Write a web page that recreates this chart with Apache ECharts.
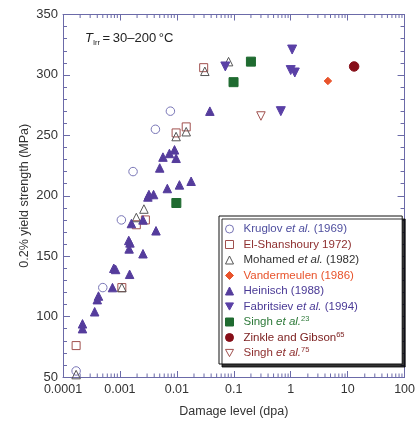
<!DOCTYPE html>
<html>
<head>
<meta charset="utf-8">
<script src="https://cdn.jsdelivr.net/npm/echarts@6/dist/echarts.min.js"></script>
<style>
  html, body { margin: 0; padding: 0; background: #fff; }
  #chart { width: 418px; height: 423px; }
</style>
</head>
<body>
<div id="chart"></div>
<script>
// Yield strength of irradiated copper vs. damage level: [dpa, MPa]
const kruglov = [[0.00017, 55], [0.0005, 124], [0.00106, 180], [0.0017, 220], [0.0042, 255], [0.0077, 270]];
const elShanshoury = [[0.00017, 76], [0.00108, 124], [0.00194, 176], [0.0028, 180], [0.0097, 252], [0.0146, 257], [0.0296, 306]];
const mohamed = [[0.00017, 52], [0.00108, 124], [0.00194, 182], [0.00264, 189], [0.0097, 249], [0.0146, 253], [0.031, 303], [0.081, 311]];
const vandermeulen = [[4.5, 295]];
const heinisch = [
  [0.00022, 94], [0.00022, 90], [0.00036, 104], [0.00042, 117], [0.0004, 114],
  [0.00074, 124], [0.00078, 140], [0.00084, 139], [0.00148, 135],
  [0.00143, 163], [0.0015, 161], [0.00145, 156], [0.00254, 152],
  [0.00159, 177], [0.00254, 180], [0.0043, 171],
  [0.00323, 201], [0.0031, 199], [0.0039, 201], [0.0068, 206], [0.0111, 209], [0.0178, 212],
  [0.005, 223], [0.0057, 232], [0.0074, 235], [0.0091, 238], [0.0097, 231], [0.038, 270]
];
const fabritsiev = [[0.071, 307], [1.06, 321], [1.0, 304], [1.18, 302], [0.67, 270]];
const singh23 = [[0.099, 294], [0.2, 311], [0.0098, 194]];
const zinkle = [[13, 307]];
const singh75 = [[0.3, 266]];

// Axis ranges and minor (2..9 per decade) tick values for the log axis
const xMin = 0.0001, xMax = 100;
const yMin = 50, yMax = 350, yStep = 50;
const minorX = [];
for (let e = -4; e < 2; e++) {
  for (let m = 2; m <= 9; m++) minorX.push(m * Math.pow(10, e));
}

const axisColor = '#6b6aa8';
const fontFamily = 'Liberation Sans, Arial, sans-serif';
const downTriangle = 'path://M0,0 L10,0 L5,9 Z';
const chart = echarts.init(document.getElementById('chart'));

// Series styles: symbol, size, fill, stroke, legend text colour
const styles = {
  'Kruglov':       { symbol: 'circle',     size: 8.5, fill: '#fff',               stroke: '#7875b6', text: '#4f4f9f', label: '{n|Kruglov }{i|et al.}{n| (1969)}' },
  'El-Shanshoury': { symbol: 'rect',       size: 8,   fill: 'rgba(255,255,255,0)', stroke: '#a0504e', text: '#8e2f2f', label: '{n|El-Shanshoury 1972)}' },
  'Mohamed':       { symbol: 'triangle',   size: 8.5, fill: 'rgba(255,255,255,0)', stroke: '#555',    text: '#333333', label: '{n|Mohamed }{i|et al.}{n| (1982)}' },
  'Vandermeulen':  { symbol: 'diamond',    size: 7.5, fill: '#e8532b',            stroke: '#e8532b', text: '#e8532b', label: '{n|Vandermeulen (1986)}' },
  'Heinisch':      { symbol: 'triangle',   size: 8.5, fill: '#553c9c',            stroke: '#553c9c', text: '#4a3a96', label: '{n|Heinisch (1988)}' },
  'Fabritsiev':    { symbol: downTriangle, size: 9,   fill: '#5a40a6',            stroke: '#5a40a6', text: '#4a3a96', label: '{n|Fabritsiev }{i|et al.}{n| (1994)}' },
  'Singh23':       { symbol: 'rect',       size: 9,   fill: '#1f6b30',            stroke: '#1f6b30', text: '#2e7a3a', label: '{n|Singh }{i|et al.}{sup|23}' },
  'Zinkle':        { symbol: 'circle',     size: 9.5, fill: '#860e18',            stroke: '#860e18', text: '#7a1c1c', label: '{n|Zinkle and Gibson}{sup|65}' },
  'Singh75':       { symbol: downTriangle, size: 8.5, fill: '#fff',               stroke: '#a0504e', text: '#8e2f2f', label: '{n|Singh }{i|et al.}{sup|75}' }
};
const seriesData = {
  'Kruglov': kruglov, 'El-Shanshoury': elShanshoury, 'Mohamed': mohamed,
  'Vandermeulen': vandermeulen, 'Heinisch': heinisch, 'Fabritsiev': fabritsiev,
  'Singh23': singh23, 'Zinkle': zinkle, 'Singh75': singh75
};
const names = Object.keys(styles);

const scatterSeries = names.map(name => {
  const s = styles[name];
  return {
    name: name, type: 'scatter', data: seriesData[name],
    symbol: s.symbol, symbolSize: s.size,
    itemStyle: { color: s.fill, borderColor: s.stroke, borderWidth: 1, opacity: 1 },
    z: 3
  };
});

chart.setOption({
  animation: false,
  grid: { left: 63, right: 12, top: 14.5, bottom: 42, containLabel: false },
  xAxis: [
    {
      type: 'log', logBase: 10, min: xMin, max: xMax, splitNumber: 6,
      name: 'Damage level (dpa)', nameLocation: 'middle', nameGap: 28,
      nameTextStyle: { color: '#333', fontSize: 12.5, fontFamily: fontFamily },
      axisLine: { lineStyle: { color: axisColor, width: 1 } },
      axisTick: { inside: true, length: 6, lineStyle: { color: axisColor } },
      axisLabel: {
        color: '#333', fontSize: 12.5, fontFamily: fontFamily, margin: 6,
        formatter: v => String(Number(v.toPrecision(1)))
      },
      splitLine: { show: false }
    },
    {
      type: 'log', logBase: 10, min: xMin, max: xMax, splitNumber: 6, position: 'top',
      axisLine: { lineStyle: { color: axisColor, width: 1 } },
      axisTick: { inside: true, length: 6, lineStyle: { color: axisColor } },
      axisLabel: { show: false },
      splitLine: { show: false }
    }
  ],
  yAxis: [
    {
      type: 'value', min: yMin, max: yMax, interval: yStep,
      name: '0.2% yield strength (MPa)', nameLocation: 'middle', nameGap: 32,
      nameMoveOverlap: false,
      nameTextStyle: { color: '#333', fontSize: 12.5, fontFamily: fontFamily },
      axisLine: { show: true, lineStyle: { color: axisColor, width: 1 } },
      axisTick: { inside: true, length: 7, lineStyle: { color: axisColor } },
      minorTick: { show: true, splitNumber: 5, length: 4, lineStyle: { color: axisColor } },
      axisLabel: { color: '#333', fontSize: 13, fontFamily: fontFamily, margin: 5 },
      splitLine: { show: false }
    },
    {
      type: 'value', min: yMin, max: yMax, interval: yStep, position: 'right',
      axisLine: { show: true, lineStyle: { color: axisColor, width: 1 } },
      axisTick: { inside: true, length: 7, lineStyle: { color: axisColor } },
      minorTick: { show: true, splitNumber: 5, length: 4, lineStyle: { color: axisColor } },
      axisLabel: { show: false },
      splitLine: { show: false }
    }
  ],
  legend: {
    orient: 'vertical', left: 219, top: 216,
    padding: [6, 43, 4, 6],
    itemWidth: 8, itemHeight: 8, itemGap: 1.5,
    backgroundColor: '#fff', borderColor: '#111', borderWidth: 1,
    shadowColor: 'rgba(0,0,0,0.8)', shadowBlur: 0, shadowOffsetX: 3, shadowOffsetY: 3,
    selectedMode: false,
    data: names.map(name => ({
      name: name,
      icon: styles[name].symbol,
      itemStyle: { color: styles[name].fill, borderColor: styles[name].stroke, borderWidth: 1 },
      textStyle: { color: styles[name].text }
    })),
    formatter: name => styles[name].label,
    textStyle: {
      fontSize: 11.5, fontFamily: fontFamily, padding: [0, 0, 0, 5], lineHeight: 14,
      rich: {
        n: { fontSize: 11.5, fontFamily: fontFamily, lineHeight: 14 },
        i: { fontSize: 11.5, fontFamily: fontFamily, fontStyle: 'italic', lineHeight: 14 },
        sup: { fontSize: 7.5, fontFamily: fontFamily, verticalAlign: 'top', lineHeight: 14, padding: [0, 0, 5, 0] }
      }
    }
  },
  graphic: [{
    type: 'text', left: 85, top: 32,
    style: {
      text: '{t|T}{s|Irr}{n|\u2009=\u200930–200\u2009°C}',
      rich: {
        t: { fontSize: 13, fontStyle: 'italic', fontFamily: fontFamily, fill: '#222' },
        s: { fontSize: 7.5, fontFamily: fontFamily, fill: '#222', padding: [8, 0, 0, 0] },
        n: { fontSize: 13, fontFamily: fontFamily, fill: '#222' }
      }
    }
  }],
  series: [
    // minor ticks of the log axes, top and bottom
    {
      type: 'custom', silent: true, z: 1, clip: false,
      data: minorX.map(v => [v, yMin]),
      renderItem: function (params, api) {
        const v = api.value(0);
        const b = api.coord([v, yMin]);
        const t = api.coord([v, yMax]);
        const style = { stroke: axisColor, lineWidth: 1 };
        return {
          type: 'group',
          children: [
            { type: 'line', shape: { x1: b[0], y1: b[1], x2: b[0], y2: b[1] - 3.5 }, style: style },
            { type: 'line', shape: { x1: t[0], y1: t[1], x2: t[0], y2: t[1] + 3.5 }, style: style }
          ]
        };
      }
    }
  ].concat(scatterSeries)
});
</script>
</body>
</html>
